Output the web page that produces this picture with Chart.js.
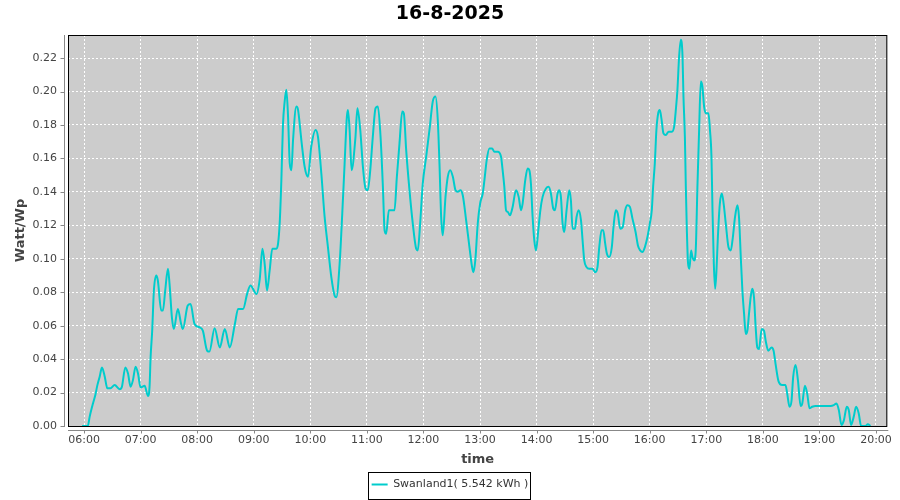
<!DOCTYPE html>
<html>
<head>
<meta charset="utf-8">
<title>16-8-2025</title>
<script src="https://cdn.jsdelivr.net/npm/chart.js@4/dist/chart.umd.min.js"></script>
<style>
    body { margin: 0; background: #ffffff; }
    #contenedor { width: 900px; height: 500px; }
</style>
</head>
<body>
<div id="contenedor">
    <canvas id="grafico" width="900" height="500"></canvas>
</div>
<script>
const tituloGrafico = '16-8-2025';
const nombreSerie = 'Swanland1( 5.542 kWh )';

// minutes since midnight
const minutos = [
    358, 364, 366, 369.5, 372, 374, 376.6, 379, 382, 384.7, 388, 392.5, 397.8, 400.2, 403.8, 406.6,
    409.4, 411.9, 414.7, 417.2, 420, 424.3, 427.8, 429.5, 430.6, 432.3, 434.1, 436.6, 438.3, 441.9,
    443.7, 446.1, 449, 450.7, 453.2, 455.3, 459.5, 463, 464.8, 470, 473, 477.2, 482.5, 486, 490.6,
    493, 498.5, 504, 509.3, 514.6, 520, 523.4, 528.7, 533, 536.5, 542.9, 546.4, 549.2, 551.6, 554.1,
    556.9, 559.7, 564, 565.8, 567.6, 569.3, 571, 572.8, 574.6, 576.4, 578.2, 580, 581.7, 585.2, 587,
    590.5, 594, 597.5, 601, 605.7, 608.1, 611.7, 615.2, 618.7, 622.3, 625.8, 627.6, 631.1, 633.9,
    636.4, 638.8, 639.9, 641.7, 643.8, 647.8, 650, 653, 655.8, 658.6, 661, 663.6, 666.3, 669.2, 671.7,
    674.5, 677, 678.8, 680.5, 683.3, 686.9, 689.3, 691.8, 694.6, 697.5, 699.2, 701.7, 705.2, 708.7,
    712.3, 714, 716.5, 719.3, 722.9, 726.4, 729.9, 732.8, 735.2, 737, 738.8, 740.5, 743.4, 745.8,
    748.4, 751.2, 754, 756.4, 759.2, 761.7, 765.3, 768.8, 771.6, 773, 775, 777.6, 780.1, 782.9, 784.7,
    787.1, 790, 792.8, 795.3, 798.8, 802.3, 804, 805.8, 807.6, 809.4, 811.8, 814.6, 818.2, 821, 823.5,
    825.2, 828, 830.5, 832.3, 834, 835.8, 837.6, 839.4, 841.8, 844, 846.4, 850, 852.8, 855.2, 857.7,
    859.4, 862.3, 864, 865.8, 867.6, 869.4, 871.8, 874.7, 876.4, 878.2, 880.7, 882.4, 884.6, 887.1,
    888.8, 890.6, 893, 895.9, 899.4, 902.2, 904.6, 906.5, 908.9, 910.7, 912.8, 914.6, 917, 919.8,
    921.6, 924, 926.1, 928.7, 931.4, 934, 936.4, 939, 941.7, 945, 947.5, 949.9, 952.3, 954.9, 957.6,
    960.1, 962.2, 963.6, 965.4, 967.1, 969, 970.7, 972.4, 974.6, 977.1, 980.1, 983.5, 985.9, 987.7,
    989.4, 991.2, 993, 994.8, 995.8, 997.3, 998.3, 999.4, 1000.7, 1002.1, 1003.9, 1005.3, 1007.1,
    1008.8, 1010.6, 1012.4, 1014.2, 1015.9, 1017.7, 1019.5, 1022.3, 1023.9, 1025.5, 1026.6, 1028,
    1029.4, 1030.8, 1032.3, 1034.4, 1036.5, 1038.4, 1040.7, 1043.5, 1046, 1048.2, 1050.5, 1053,
    1054.7, 1056.6, 1058.3, 1060.1, 1061.9, 1063.6, 1065.3, 1067.1, 1068.8, 1070.6, 1072.4, 1074.1,
    1075.9, 1078.8, 1081.2, 1083, 1085.8, 1089.3, 1091.4, 1093.5, 1096.5, 1100.5, 1104, 1105.8,
    1108.3, 1110.4, 1112.2, 1114.7, 1117.2, 1120, 1121.8, 1124.6, 1127, 1129.5, 1132.3, 1135.9, 1141,
    1146.5, 1151.8, 1155.3, 1158.1, 1160.6, 1163.4, 1166, 1169, 1171.1, 1173.6, 1176.4, 1178.9,
    1181.7, 1184.2, 1188.9, 1191.3, 1194.2
];

const wattWp = [
    0, 0, 0.0056, 0.0135, 0.0185, 0.024, 0.0295, 0.035, 0.0295, 0.0225, 0.0225, 0.0245, 0.022, 0.0235, 0.035, 0.0315,
    0.0235, 0.0275, 0.0355, 0.0315, 0.023, 0.024, 0.018, 0.0235, 0.041, 0.057, 0.081, 0.090, 0.087, 0.069,
    0.069, 0.081, 0.094, 0.085, 0.065, 0.058, 0.070, 0.061, 0.058, 0.072, 0.073, 0.061, 0.059, 0.057, 0.045,
    0.0445, 0.0585, 0.047, 0.058, 0.047, 0.061, 0.070, 0.070, 0.079, 0.084, 0.079, 0.088, 0.106, 0.097, 0.081,
    0.093, 0.106, 0.106, 0.109, 0.122, 0.147, 0.180, 0.194, 0.201, 0.185, 0.157, 0.153, 0.171, 0.191, 0.189,
    0.171, 0.155, 0.149, 0.167, 0.177, 0.173, 0.151, 0.125, 0.107, 0.089, 0.078, 0.077, 0.097, 0.127,
    0.157, 0.185, 0.189, 0.177, 0.153, 0.172, 0.190, 0.177, 0.155, 0.142, 0.141, 0.153, 0.173, 0.190, 0.191,
    0.173, 0.143, 0.117, 0.115, 0.129, 0.129, 0.129, 0.149, 0.169, 0.188, 0.187, 0.165, 0.141, 0.121,
    0.106, 0.105, 0.121, 0.145, 0.161, 0.177, 0.194, 0.197, 0.183, 0.157, 0.125, 0.114, 0.137, 0.149,
    0.153, 0.149, 0.141, 0.140, 0.141, 0.138, 0.123, 0.107, 0.095, 0.092, 0.099, 0.121, 0.133, 0.139, 0.147,
    0.159, 0.166, 0.166, 0.164, 0.164, 0.161, 0.153, 0.143, 0.129, 0.128, 0.126, 0.131, 0.141, 0.137, 0.129,
    0.133, 0.147, 0.154, 0.153, 0.145, 0.125, 0.111, 0.105, 0.117, 0.129, 0.137, 0.142, 0.143, 0.139, 0.130,
    0.129, 0.139, 0.141, 0.137, 0.121, 0.116, 0.129, 0.141, 0.135, 0.118, 0.118, 0.125, 0.129, 0.123,
    0.111, 0.099, 0.095, 0.094, 0.094, 0.092, 0.095, 0.107, 0.117, 0.117, 0.109, 0.103, 0.101, 0.107,
    0.119, 0.129, 0.127, 0.118, 0.119, 0.129, 0.132, 0.131, 0.124, 0.116, 0.108, 0.105, 0.104, 0.107, 0.113,
    0.121, 0.129, 0.143, 0.157, 0.177, 0.187, 0.189, 0.184, 0.175, 0.174, 0.176, 0.176, 0.179, 0.189,
    0.201, 0.221, 0.231, 0.221, 0.197, 0.173, 0.143, 0.117, 0.097, 0.094, 0.105, 0.101, 0.099,
    0.105, 0.143, 0.177, 0.206, 0.203, 0.191, 0.187, 0.187, 0.177, 0.161, 0.129, 0.097,
    0.082, 0.093, 0.113, 0.133, 0.139, 0.133, 0.121, 0.107, 0.105, 0.113, 0.125, 0.132,
    0.125, 0.101, 0.081, 0.067, 0.055, 0.057, 0.067, 0.077, 0.082, 0.077, 0.059, 0.047,
    0.046, 0.058, 0.057, 0.051, 0.045, 0.047, 0.045, 0.037, 0.027, 0.0245, 0.0245, 0.0195,
    0.0115, 0.015, 0.0295, 0.0365, 0.0275, 0.012, 0.0135, 0.024, 0.0195, 0.0106, 0.0115, 0.012, 0.012,
    0.012, 0.012, 0.0125, 0.0135, 0.0095, 0.0006, 0.0035, 0.0115, 0.0095, 0.0006, 0.0056, 0.0115,
    0.0075, 0, 0, 0.001, 0
];

const horasEje = [6, 7, 8, 9, 10, 11, 12, 13, 14, 15, 16, 17, 18, 19, 20];
const valoresEjeY = [0, 0.02, 0.04, 0.06, 0.08, 0.10, 0.12, 0.14, 0.16, 0.18, 0.20, 0.22];

function formatoHora(min) {
    const h = Math.floor(min / 60);
    const m = Math.round(min % 60);
    return String(h).padStart(2, '0') + ':' + String(m).padStart(2, '0');
}

// grey plot background, black frame, offset grey axis lines and legend box
const marcoGrafico = {
    id: 'marcoGrafico',
    beforeDraw(chart) {
        const { ctx, chartArea: a } = chart;
        ctx.save();
        ctx.fillStyle = '#cccccc';
        ctx.fillRect(a.left, a.top, a.right - a.left, a.bottom - a.top);
        ctx.restore();
    },
    afterDatasetsDraw(chart) {
        const { ctx, chartArea: a, scales } = chart;
        ctx.save();
        ctx.lineWidth = 1;
        ctx.strokeStyle = '#000000';
        ctx.strokeRect(a.left + 0.5, a.top + 0.5, a.right - a.left - 1, a.bottom - a.top);

        ctx.strokeStyle = '#888888';
        ctx.beginPath();
        const ejeX = a.left - 3.5;
        const ejeY = a.bottom + 4.5;
        ctx.moveTo(ejeX, a.top);
        ctx.lineTo(ejeX, a.bottom + 1);
        ctx.moveTo(a.left, ejeY);
        ctx.lineTo(a.right + 1, ejeY);
        scales.y.ticks.forEach(t => {
            const y = Math.round(scales.y.getPixelForValue(t.value)) + 0.5;
            ctx.moveTo(ejeX - 4, y);
            ctx.lineTo(ejeX, y);
        });
        scales.x.ticks.forEach(t => {
            const x = Math.round(scales.x.getPixelForValue(t.value)) + 0.5;
            ctx.moveTo(x, ejeY);
            ctx.lineTo(x, ejeY + 3);
        });
        ctx.stroke();
        ctx.restore();
    },
    afterDraw(chart) {
        const caja = chart.legend.legendHitBoxes[0];
        if (!caja) return;
        const { ctx } = chart;
        const centro = caja.top + caja.height / 2;
        ctx.save();
        ctx.strokeStyle = '#000000';
        ctx.lineWidth = 1;
        ctx.strokeRect(Math.round(caja.left) - 3.5, Math.round(centro) - 12.5, Math.round(caja.width) + 5, 27);
        ctx.restore();
    }
};

Chart.defaults.font.family = '"DejaVu Sans", sans-serif';
Chart.defaults.color = '#444444';

const ctx = document.getElementById('grafico').getContext('2d');
new Chart(ctx, {
    type: 'line',
    data: {
        datasets: [{
            label: nombreSerie,
            data: minutos.map((m, i) => ({ x: m, y: wattWp[i] })),
            borderColor: '#00cccc',
            backgroundColor: '#00cccc',
            borderWidth: 2,
            pointRadius: 0,
            fill: false,
            cubicInterpolationMode: 'monotone'
        }]
    },
    options: {
        responsive: false,
        animation: false,
        devicePixelRatio: 1,
        layout: { padding: { left: 12, right: 12, top: 0, bottom: 0 } },
        plugins: {
            title: {
                display: true,
                text: tituloGrafico,
                color: '#000000',
                font: { size: 19, weight: 'bold' },
                padding: { top: 3, bottom: 9.2 }
            },
            legend: {
                position: 'bottom',
                labels: {
                    usePointStyle: true,
                    pointStyle: 'line',
                    pointStyleWidth: 16,
                    boxWidth: 16,
                    color: '#333333',
                    font: { size: 11, lineHeight: 0.85 },
                    padding: 6
                }
            },
            tooltip: { enabled: false }
        },
        scales: {
            x: {
                type: 'linear',
                min: 343,
                max: 1212,
                afterBuildTicks: scale => {
                    scale.ticks = horasEje.map(h => ({ value: h * 60 }));
                },
                afterFit: scale => { scale.height = 47; },
                ticks: {
                    autoSkip: false,
                    maxRotation: 0,
                    padding: 8,
                    font: { size: 11 },
                    callback: v => formatoHora(v)
                },
                grid: { color: '#ffffff', drawTicks: false, lineWidth: 1 },
                border: { display: false, dash: [2, 2] },
                title: {
                    display: true,
                    text: 'time',
                    font: { size: 13, weight: 'bold' },
                    padding: { top: 0, bottom: 5.7 }
                }
            },
            y: {
                min: 0,
                max: 0.2338,
                afterBuildTicks: scale => {
                    scale.ticks = valoresEjeY.map(v => ({ value: v }));
                },
                afterFit: scale => { scale.width = 56; },
                ticks: {
                    padding: 11,
                    font: { size: 11 },
                    callback: v => v.toFixed(2)
                },
                grid: { color: '#ffffff', drawTicks: false, lineWidth: 1 },
                border: { display: false, dash: [2, 2] },
                title: {
                    display: true,
                    text: 'Watt/Wp',
                    font: { size: 13, weight: 'bold' },
                    padding: { top: 1, bottom: 0 }
                }
            }
        }
    },
    plugins: [marcoGrafico]
});
</script>
</body>
</html>
